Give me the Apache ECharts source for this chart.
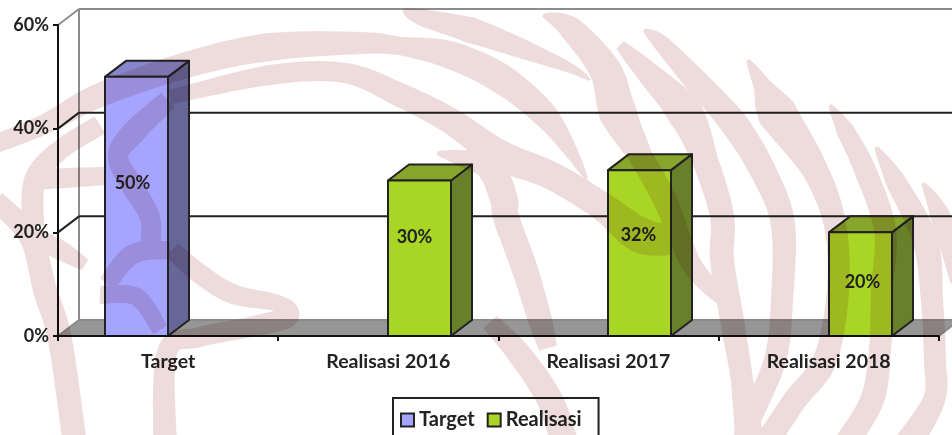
<!DOCTYPE html>
<html><head><meta charset="utf-8">
<style>html,body{margin:0;padding:0;background:#fff}#c{width:952px;height:435px}</style>
<script src="https://cdn.jsdelivr.net/npm/echarts@6/dist/echarts.min.js"></script>
</head><body><div id="c"></div>
<script>
const categories = ['Target', 'Realisasi 2016', 'Realisasi 2017', 'Realisasi 2018'];
const targetValues = [50, null, null, null];
const realisasiValues = [null, 30, 32, 20];
const yTicks = [0, 20, 40, 60];

// Presentation constants (not data)
const DEPTH_X = 21, DEPTH_Y = 16, BAR_RATIO = 63 / 220;
const LABEL_NUDGE = { Target: [[-4, -23]], Realisasi: [[0,0], [-5, -21], [-1, -18], [2, -2]] };
const FONT = 'Lato, Carlito, "Open Sans", sans-serif';
const INK = '#222';
const WATERMARK = '#eedcdc';

// Background watermark ribbons: [x, y, width] (decoration, not chart data)
const RIBBONS = [
  [[-10,146,18],[45,124,20],[100,95,24],[190,64,26],[270,47,28],[360,43,22],[400,46,18],[450,55,28],[500,78,30],[543,113,26],[570,150,14],[587,180,2]],
  [[170,97,14],[270,75,20],[345,73,20],[400,95,24],[449,120,26],[500,155,30],[550,175,28],[600,205,28],[640,235,36],[672,240,30]],
  [[403,10,3],[420,17,16],[470,30,26],[520,48,20],[570,68,10],[590,80,2]],
  [[543,15,3],[570,28,24],[605,70,32],[618,113,38],[640,155,24],[665,200,24],[692,265,20],[725,300,16]],
  [[620,45,10],[650,75,24],[685,113,36],[705,160,26],[722,216,24],[722,260,24],[732,320,24],[742,380,22],[750,445,30]],
  [[644,30,3],[660,42,16],[695,80,24],[735,125,28],[765,175,26],[783,225,24],[782,300,22],[775,360,22],[750,420,22],[742,445,20]],
  [[748,60,3],[762,85,18],[777,113,40],[815,170,26],[835,225,22],[838,290,22],[825,360,24],[795,400,24],[765,445,24]],
  [[830,105,3],[845,130,18],[865,170,22],[885,230,22],[882,290,22],[880,350,22],[872,400,24],[845,445,24]],
  [[876,147,3],[895,180,20],[925,240,26],[932,300,22],[935,360,22],[934,400,22],[907,445,28]],
  [[923,183,3],[940,215,20],[962,280,24]],
  [[437,153,3],[460,158,16],[490,168,28],[504,200,28],[506,217,26],[525,270,26],[540,320,24],[548,348,18]],
  [[490,322,18],[520,355,24],[550,400,26],[565,445,28]],
  [[-5,200,20],[30,237,22],[45,290,24],[60,340,24],[75,445,24]],
  [[30,235,18],[60,250,20],[85,265,12]],
  [[172,250,18],[200,274,20],[233,294,20],[280,304,16],[287,317,22],[250,327,20],[200,337,20],[167,352,20],[165,445,24]],
  [[107,284,18],[133,254,20],[170,250,18]],
  [[100,295,18],[137,297,18],[160,330,16]],
  [[168,100,20],[133,133,24],[118,157,20],[133,187,22],[150,218,20],[150,250,20]],
  [[100,125,20],[60,150,20],[35,180,22],[33,225,22]],
  [[105,176,18],[65,178,20],[35,180,20]]
];

function ribbonPath(pts) {
  const left = [], right = [];
  for (let i = 0; i < pts.length - 1; i++) {
    const p0 = pts[i - 1] || pts[i], p1 = pts[i], p2 = pts[i + 1], p3 = pts[i + 2] || p2;
    const n = 10;
    for (let k = 0; k < n + (i === pts.length - 2 ? 1 : 0); k++) {
      const t = k / n, t2 = t * t, t3 = t2 * t;
      const cr = j => 0.5 * (2 * p1[j] + (p2[j] - p0[j]) * t + (2 * p0[j] - 5 * p1[j] + 4 * p2[j] - p3[j]) * t2 + (3 * p1[j] - p0[j] - 3 * p2[j] + p3[j]) * t3);
      const d = j => 0.5 * ((p2[j] - p0[j]) + 2 * (2 * p0[j] - 5 * p1[j] + 4 * p2[j] - p3[j]) * t + 3 * (3 * p1[j] - p0[j] - 3 * p2[j] + p3[j]) * t2);
      const dx = d(0), dy = d(1), len = Math.hypot(dx, dy) || 1;
      const w = (p1[2] + (p2[2] - p1[2]) * t) / 2;
      const x = cr(0), y = cr(1);
      left.push((x - dy / len * w).toFixed(1) + ' ' + (y + dx / len * w).toFixed(1));
      right.push((x + dy / len * w).toFixed(1) + ' ' + (y - dx / len * w).toFixed(1));
    }
  }
  return 'M' + left.join('L') + 'L' + right.reverse().join('L') + 'Z';
}

function barSeries(name, values, offsetSign, front, side, top, nudges) {
  return {
    type: 'custom', name: name, z: 3, silent: true, clip: false,
    itemStyle: { color: front, borderColor: INK, borderWidth: 2 },
    encode: { x: 0, y: 1 },
    data: values.map((v, i) => [i, v]),
    renderItem: function (params, api) {
      const v = api.value(1);
      if (v === null || isNaN(v)) return;
      const i = api.value(0);
      const p = api.coord([i, v]), b = api.coord([i, 0]);
      const w = params.coordSys.width / categories.length * BAR_RATIO;
      const x0 = Math.round(p[0] + (offsetSign < 0 ? -w : 0)), x1 = x0 + Math.round(w);
      const yt = p[1], yb = b[1];
      const st = { stroke: INK, lineWidth: 2, lineJoin: 'round' };
      const n = nudges[i] || nudges[0] || [0, 0];
      return { type: 'group', children: [
        { type: 'polygon', shape: { points: [[x1, yb], [x1 + DEPTH_X, yb - DEPTH_Y], [x1 + DEPTH_X, yt - DEPTH_Y], [x1, yt]] }, style: Object.assign({ fill: side }, st) },
        { type: 'polygon', shape: { points: [[x0, yt], [x1, yt], [x1 + DEPTH_X, yt - DEPTH_Y], [x0 + DEPTH_X, yt - DEPTH_Y]] }, style: Object.assign({ fill: top }, st) },
        { type: 'rect', shape: { x: x0, y: yt, width: x1 - x0, height: yb - yt }, style: Object.assign({ fill: front }, st) },
        { type: 'text', x: (x0 + x1) / 2 + n[0], y: (yt + yb) / 2 + n[1],
          style: { text: v + '%', fill: INK, font: 'bold 18px ' + FONT, align: 'center', verticalAlign: 'middle' } }
      ] };
    }
  };
}

const wallSeries = {
  type: 'custom', name: 'walls', z: 1, silent: true, clip: false,
  encode: { y: 0 },
  data: yTicks.map(v => [v]),
  renderItem: function (params, api) {
    const cs = params.coordSys;
    const v = api.value(0);
    const y = api.coord([0, v])[1];
    const xl = cs.x, xr = cs.x + cs.width;
    if (v === 0) {
      return { type: 'group', children: [
        { type: 'polygon', shape: { points: [[xl, y], [xl + DEPTH_X, y - DEPTH_Y], [xr + DEPTH_X, y - DEPTH_Y], [xr, y]] },
          style: { fill: '#969696', stroke: '#8a8a8a', lineWidth: 2 } },
        { type: 'line', shape: { x1: xl + DEPTH_X, y1: y - DEPTH_Y, x2: xl + DEPTH_X, y2: cs.y - DEPTH_Y },
          style: { stroke: '#8c8c8c', lineWidth: 2 } }
      ] };
    }
    const col = v === yTicks[yTicks.length - 1] ? '#8c8c8c' : '#222';
    return { type: 'group', children: [
      { type: 'line', shape: { x1: xl, y1: y, x2: xl + DEPTH_X, y2: y - DEPTH_Y }, style: { stroke: col, lineWidth: 2 } },
      { type: 'line', shape: { x1: xl + DEPTH_X, y1: y - DEPTH_Y, x2: xr + DEPTH_X, y2: y - DEPTH_Y }, style: { stroke: col, lineWidth: 2 } }
    ] };
  }
};

const watermarkSeries = {
  type: 'custom', name: 'watermark', z: 100, silent: true, clip: false, blendMode: 'multiply',
  encode: { x: 0, y: 1 },
  data: [[0, 0]],
  renderItem: function () {
    // a degenerate off-canvas triangle at each corner keeps the "cover" box equal to the page's pixel box
    const d = 'M-100 -100L-99 -100L-100 -99Z' + RIBBONS.map(ribbonPath).join('') + 'M1100 600L1099 600L1100 599Z';
    return { type: 'path',
      shape: { pathData: d, x: -100, y: -100, width: 1200, height: 700, layout: 'cover' },
      style: { fill: WATERMARK, stroke: null } };
  }
};

const chart = echarts.init(document.getElementById('c'), null, { renderer: 'canvas', width: 952, height: 435 });
chart.setOption({
  animation: false,
  backgroundColor: '#fff',
  textStyle: { fontFamily: FONT },
  grid: { left: 58, top: 25, width: 880.7, height: 311, containLabel: false },
  xAxis: {
    type: 'category', data: categories, z: 10,
    axisLine: { lineStyle: { color: '#111', width: 2 } },
    axisTick: { show: true, length: 5, lineStyle: { color: '#111', width: 2 } },
    axisLabel: { color: INK, fontFamily: FONT, fontWeight: 'bold', fontSize: 19.5, margin: 16, interval: 0 }
  },
  yAxis: {
    type: 'value', min: 0, max: 60, interval: 20, z: 10,
    axisLine: { show: true, lineStyle: { color: '#111', width: 2 } },
    axisTick: { show: true, length: 5, lineStyle: { color: '#111', width: 2 } },
    splitLine: { show: false },
    axisLabel: { color: INK, fontFamily: FONT, fontWeight: 'bold', fontSize: 18, margin: 9, formatter: '{value}%' }
  },
  legend: {
    left: 393, top: 398, orient: 'horizontal', selectedMode: false,
    padding: [12, 17, 24, 7], itemGap: 12, itemWidth: 13, itemHeight: 13,
    borderColor: INK, borderWidth: 2, backgroundColor: 'transparent',
    textStyle: { color: INK, fontFamily: FONT, fontWeight: 'bold', fontSize: 20 },
    data: [
      { name: 'Target', icon: 'rect', itemStyle: { color: '#a5a5ff', borderColor: INK, borderWidth: 2 } },
      { name: 'Realisasi', icon: 'rect', itemStyle: { color: '#a9d524', borderColor: INK, borderWidth: 2 } }
    ]
  },
  series: [
    wallSeries,
    barSeries('Target', targetValues, -1, '#a5a5ff', '#666699', '#8686cc', LABEL_NUDGE.Target),
    barSeries('Realisasi', realisasiValues, 1, '#a9d524', '#688029', '#87a62b', LABEL_NUDGE.Realisasi),
    watermarkSeries
  ]
});
</script></body></html>
